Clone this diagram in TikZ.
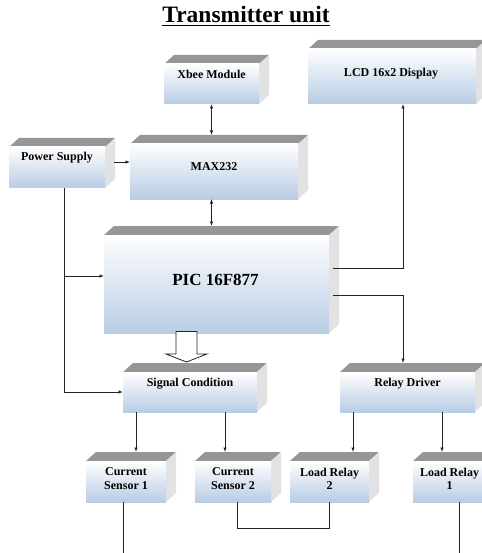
\documentclass[tikz,border=0pt]{standalone}
\usepackage{fontspec}
\setmainfont{Liberation Serif}
\usetikzlibrary{arrows.meta,calc}
\definecolor{boxblue}{RGB}{184,204,228}
\definecolor{topgray}{RGB}{150,150,150}
\definecolor{sidegray}{RGB}{226,226,226}
\definecolor{linec}{RGB}{35,35,35}
\tikzset{
  topface/.style={fill=topgray},
  sideface/.style={fill=sidegray},
  front/.style={draw=none, top color=white, bottom color=boxblue, inner sep=0pt, outer sep=0pt},
  lbl/.style={font=\fontsize{12}{13.5}\selectfont\bfseries, inner sep=0pt, align=center, text=black},
  biglbl/.style={font=\fontsize{17}{20}\selectfont\bfseries, inner sep=0pt, text=black},
  ttl/.style={font=\fontsize{23.5}{28}\selectfont\bfseries, inner sep=0pt, text=black},
  wire/.style={draw=linec, line width=0.8pt},
  arr/.style={wire, -{Latex[length=4.5pt,width=3.5pt]}},
  arrtwo/.style={wire, {Latex[length=4.5pt,width=3.5pt]}-{Latex[length=4.5pt,width=3.5pt]}},
  hollow/.style={draw=linec, line width=0.8pt, fill=white, line join=miter}
}
\newcommand\tdbox[5]{%
  \pgfmathsetmacro\bxw{#4-#2}\pgfmathsetmacro\bxh{#5-#3}%
  \pgfmathsetmacro\bxc{(#2+#4)/2}\pgfmathsetmacro\byc{(#3+#5)/2}%
  \fill[topface] (#2,#3) -- (#2+10,#3-9) -- (#4+10,#3-9) -- (#4,#3) -- cycle;
  \fill[sideface] (#4,#3) -- (#4+10,#3-9) -- (#4+10,#5-9) -- (#4,#5) -- cycle;
  \node[front, minimum width=\bxw pt, minimum height=\bxh pt] (#1) at (\bxc,\byc) {};
  \coordinate (#1-top) at (\bxc+10,#3-9);
}
\begin{document}
\begin{tikzpicture}[x=1pt,y=-1pt]
\useasboundingbox (0,0) rectangle (481,553);
\fill[white] (0,0) rectangle (481,553);

% title
\node[ttl, anchor=base] (title) at (246,22.7) {Transmitter unit};
\draw[line width=1.5pt] ([yshift=-2.6pt]title.base west) -- ([yshift=-2.6pt]title.base east);

% boxes
\tdbox{xbee}{164}{64}{259}{104}
\tdbox{lcd}{308}{49}{476}{104}
\tdbox{ps}{9}{147}{105}{188}
\tdbox{max}{130}{144}{298}{199}
\tdbox{pic}{104}{235}{329}{333}
\tdbox{sc}{123}{372}{257}{412}
\tdbox{rd}{340}{372}{475}{412}
\tdbox{csa}{86}{461}{166}{502}
\tdbox{csb}{195}{461}{271}{502}
\tdbox{lrb}{290}{461}{369}{502}
\tdbox{lra}{413}{461}{486}{502}

% labels
\node[lbl, anchor=base] (xbee-t) at (211.5,79) {Xbee Module};
\node[lbl, anchor=base] (lcd-t) at (391,77) {LCD 16x2 Display};
\node[lbl, anchor=base] (ps-t) at (57,161) {Power Supply};
\node[lbl, anchor=base] (max-t) at (214,171) {MAX232};
\node[biglbl, anchor=base] (pic-t) at (215.5,285.5) {PIC 16F877};
\node[lbl, anchor=base] (sc-t) at (190,386) {Signal Condition};
\node[lbl, anchor=base] (rd-t) at (407.5,386) {Relay Driver};
\node[lbl] (csa-t) at (126,478.8) {Current\\Sensor 1};
\node[lbl] (csb-t) at (233,478.8) {Current\\Sensor 2};
\node[lbl] (lrb-t) at (329.5,478.8) {Load Relay\\2};
\node[lbl] (lra-t) at (449.5,478.8) {Load Relay\\1};

% connectors
\draw[arrtwo] (xbee.south) -- (xbee.south |- max-top);
\draw[arrtwo] (max.south -| xbee.south) -- (xbee.south |- pic-top);

\coordinate (p1) at (333,268);
\coordinate (p2) at (333,295);
\coordinate (vx) at ([xshift=11pt]lcd.south);
\draw[arr] (p1) -| (vx);
\draw[arr] (p2) -| (vx |- rd-top);

\coordinate (a1) at (114,162);
\draw[arr] (a1) -- (a1 -| max.west);

\coordinate (psout) at ([xshift=7pt]ps.south);
\draw[arr] (psout) |- (sc.west);
\coordinate (br) at (64,276);
\draw[arr] (br) -- (br -| pic.west);

% hollow arrow
\coordinate (ha) at ([xshift=-30pt]pic.south);
\draw[hollow] ($(ha)+(-10.5,-1.5)$) -- ($(ha)+(-10.5,21)$) -- ($(ha)+(-20.5,21)$)
  -- ($(ha)+(0,29)$) -- ($(ha)+(20.5,21)$) -- ($(ha)+(10.5,21)$) -- ($(ha)+(10.5,-1.5)$) -- cycle;

% to sensors / relays
\draw[arr] (csa-top |- sc.south) -- (csa-top);
\coordinate (c2) at ([xshift=-18pt]csb-top);
\draw[arr] (c2 |- sc.south) -- (c2);
\coordinate (c3) at (353,452);
\draw[arr] (c3 |- rd.south) -- (c3);
\coordinate (c4) at (442,452);
\draw[arr] (c4 |- rd.south) -- (c4);

% bottom wires
\coordinate (d1) at ([xshift=-3pt]csa.south);
\draw[wire] (d1) -- ++(0,51);
\coordinate (d2) at ([xshift=9.5pt]lra.south);
\draw[wire] (d2) -- ++(0,51);
\coordinate (d3) at ([xshift=4pt]csb.south);
\draw[wire] (d3) -- ++(0,26) -| (lrb.south);
\end{tikzpicture}
\end{document}
